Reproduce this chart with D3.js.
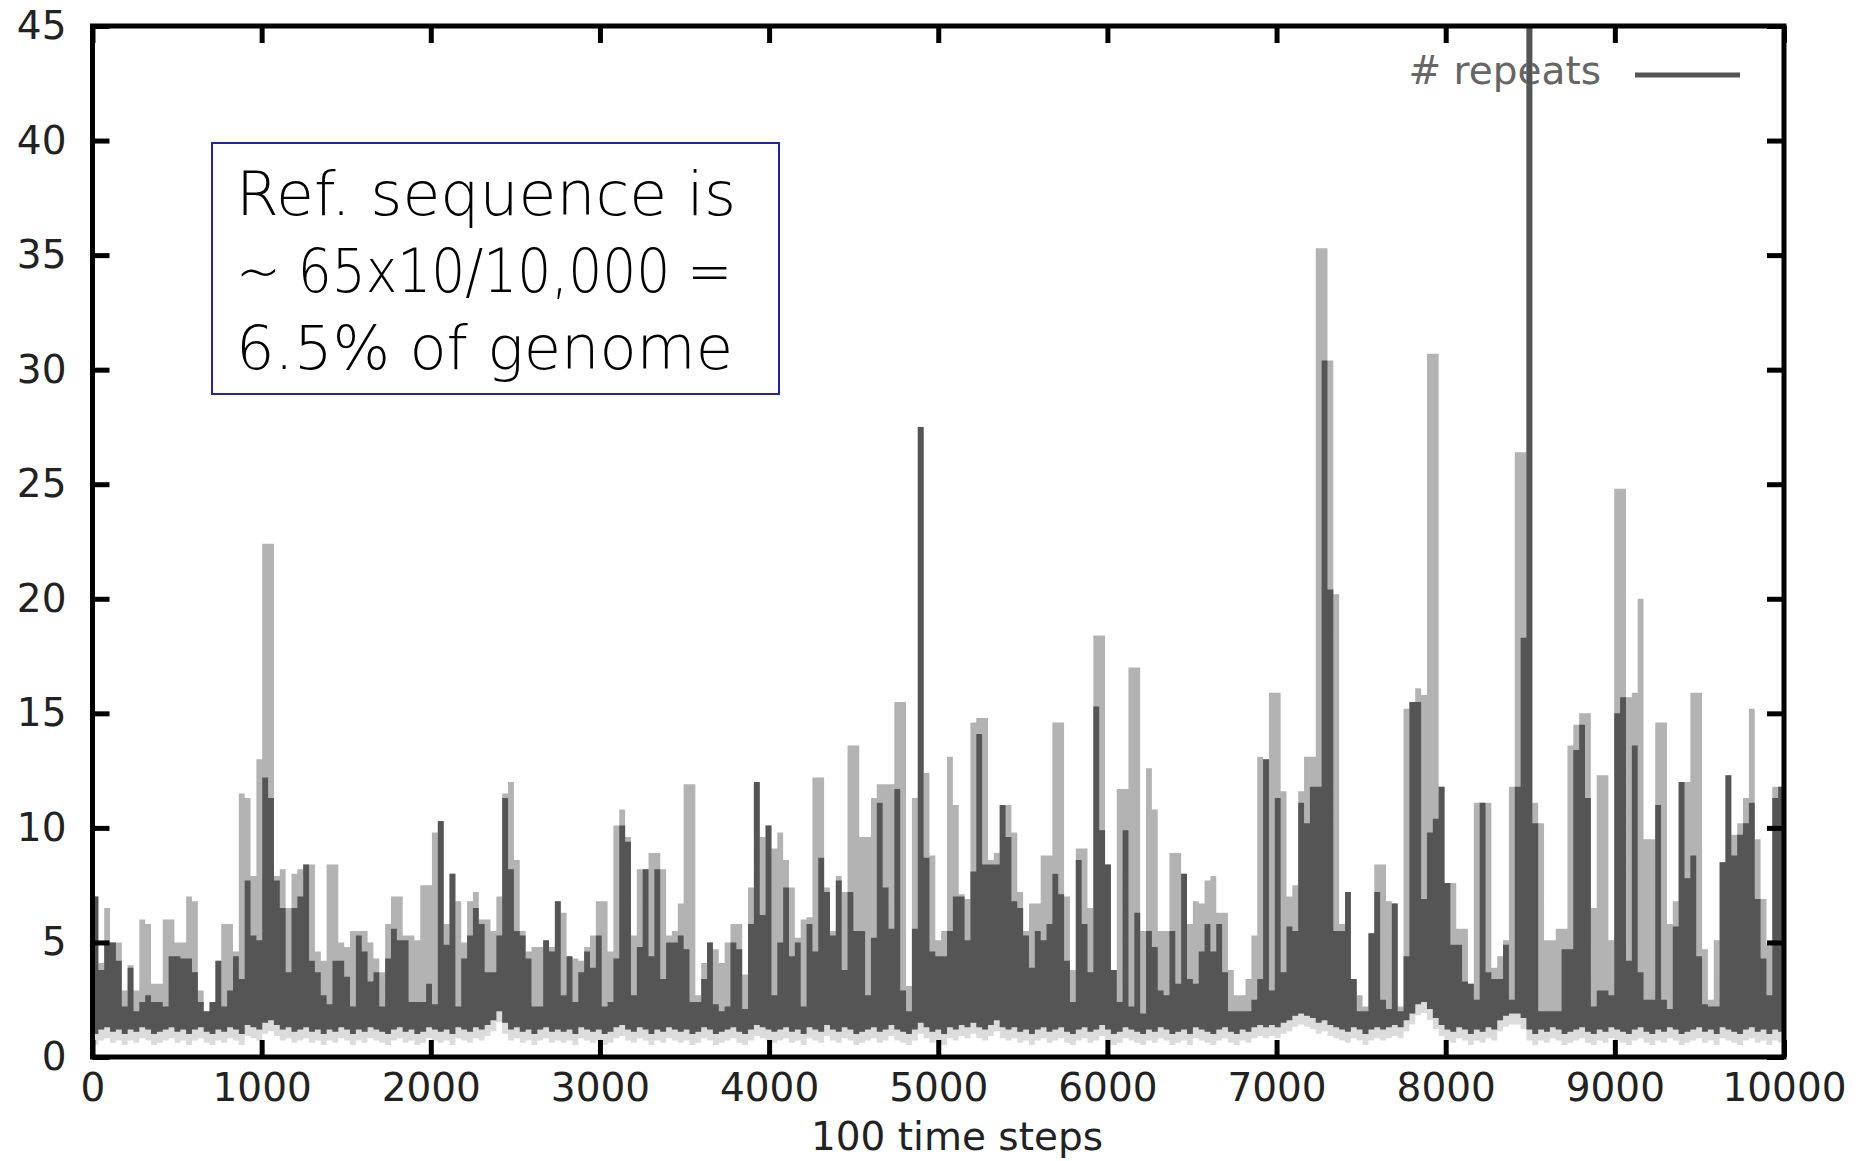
<!DOCTYPE html>
<html>
<head>
<meta charset="utf-8">
<script src="https://cdn.jsdelivr.net/npm/d3@7/dist/d3.min.js"></script>
<style>
body { margin: 0; background: #fff; }
svg { display: block; }
.axis .tick text { font-family: "DejaVu Sans", sans-serif; font-size: 39px; fill: #222; }
.axis .tick line { stroke: #000; stroke-width: 5; }
</style>
</head>
<body>
<script>
// # repeats, one plot column at a time (about 35 time steps each)
// core = top of the dark trace, halo = top of the grey fringe, lows = bottom of the trace
var core = [
 7.0,3.8,5.0,5.0,4.2,2.2,3.9,2.0,2.4,2.7,  2.4,2.4,2.2,4.4,4.4,4.3,4.3,3.7,2.4,2.0,
 2.4,4.2,2.2,2.9,4.4,3.4,7.7,5.3,5.1,12.2, 11.3,7.7,6.5,3.7,6.5,7.0,8.4,4.2,3.7,2.7,
 2.3,4.2,4.2,3.5,2.2,5.3,4.6,3.3,3.7,2.2,  4.3,5.6,5.1,5.1,2.4,2.4,2.4,3.2,2.3,10.3,
 4.9,8.0,2.2,4.3,5.3,6.5,5.8,3.7,3.7,5.3,  11.3,8.2,5.5,5.3,4.3,2.2,2.2,5.1,4.6,6.8,
 2.7,4.4,2.4,3.7,4.6,3.9,5.3,2.2,2.4,4.3,  10.1,9.4,2.7,4.8,8.2,4.4,8.2,3.4,5.0,5.0,
 5.3,4.7,2.4,2.4,3.4,5.0,2.3,2.0,2.2,5.0,  4.7,2.1,5.8,12.0,6.2,10.1,2.7,5.0,7.4,4.4,
 5.0,2.2,5.8,4.6,8.7,7.2,5.3,7.7,3.8,7.2,  5.5,5.5,2.7,5.2,11.1,7.4,5.6,11.7,2.9,2.0,
 5.6,27.5,8.7,4.6,4.4,4.4,5.5,7.0,7.0,5.1, 8.1,14.1,8.4,8.4,8.4,11.0,9.6,6.8,6.5,5.3,
 3.9,5.5,5.1,5.8,8.0,7.1,4.2,2.4,8.6,5.8,  3.7,15.3,9.9,8.4,3.8,2.4,9.9,2.2,6.3,1.9,
 5.5,4.8,2.9,2.7,5.5,3.2,8.0,3.4,3.2,4.6,  5.8,4.6,5.8,3.7,2.0,2.0,2.0,2.0,2.5,3.4,
 13.0,2.9,11.3,3.7,5.7,5.5,11.1,10.2,11.8,11.8, 30.4,20.4,5.5,5.5,7.2,3.4,2.0,2.0,5.4,7.2,
 2.5,2.1,6.7,2.0,4.4,15.5,15.5,6.9,9.8,10.4, 11.8,7.6,4.9,4.9,3.3,3.2,2.5,11.1,3.7,3.4,
 3.4,4.9,2.5,11.8,18.3,47,10.2,2.0,2.0,2.0, 2.0,4.7,4.7,13.4,14.5,11.3,2.2,2.9,2.9,2.7,
 15.0,15.7,4.2,13.6,3.7,2.5,2.5,11.0,2.5,2.1, 5.7,12.0,7.8,8.8,4.4,2.3,2.2,2.2,8.5,12.3,
 8.8,9.7,10.2,11.1,6.9,4.3,2.7,11.3,11.8
];
var halo = [
 7.0,4.1,6.5,5.0,5.0,2.9,4.0,2.9,6.0,5.8,  3.2,3.2,6.0,6.0,5.0,5.0,7.0,6.8,2.9,2.0,
 2.4,4.2,5.8,5.8,4.6,11.5,11.3,7.9,13.0,22.4, 22.4,7.9,8.2,6.5,8.0,8.2,8.4,8.4,4.6,4.2,
 8.4,8.4,5.0,4.8,5.5,5.5,5.5,5.0,4.3,3.7,  5.8,7.0,7.0,5.3,5.3,5.1,7.5,7.5,9.8,10.3,
 5.8,8.0,6.8,5.0,6.8,7.2,6.0,6.0,5.5,7.0,  11.5,12.0,8.6,5.5,4.6,4.8,4.8,5.1,4.8,6.8,
 6.3,4.4,4.3,4.2,4.8,5.3,6.8,6.8,4.6,10.1, 10.8,9.6,5.3,8.2,8.2,8.9,8.9,8.2,5.3,5.5,
 6.7,11.9,11.9,2.7,4.1,5.0,4.7,4.1,5.0,5.8, 5.8,3.6,7.4,12.0,9.6,10.1,9.1,9.8,8.6,7.4,
 5.2,6.0,6.1,12.2,12.2,7.4,5.5,7.9,7.2,13.6, 13.6,9.6,9.6,11.3,11.9,11.9,11.9,15.5,15.5,3.1,
 11.3,27.5,12.4,8.8,5.1,5.5,13.1,11.0,7.1,6.9, 14.6,14.8,14.8,8.6,8.9,11.0,11.0,9.8,7.2,5.5,
 6.7,6.7,8.8,8.8,14.6,14.6,7.0,3.8,9.1,9.1, 6.5,18.4,18.4,8.4,3.8,11.7,11.7,17.0,17.0,5.5,
 12.6,10.8,5.5,5.5,8.9,8.9,8.0,5.8,6.8,6.7, 7.7,7.9,6.3,6.3,3.8,2.7,2.7,3.4,5.3,13.1,
 13.0,15.9,15.9,11.6,7.0,7.5,11.6,13.1,13.1,35.3, 35.3,30.4,20.2,5.8,7.2,3.4,2.7,2.2,5.4,8.4,
 8.4,6.8,6.7,2.2,15.2,15.5,16.1,15.8,30.7,30.7, 11.8,7.6,7.6,5.6,5.6,3.2,11.1,11.1,11.1,3.9,
 4.4,5.1,11.8,26.4,26.4,47,11.1,10.2,5.1,5.1, 5.6,5.6,13.6,14.5,15.0,15.0,6.5,12.3,12.3,5.1,
 24.8,24.8,15.7,15.9,20.0,9.5,9.5,14.6,14.6,5.8, 6.8,12.0,12.0,15.9,15.9,4.7,2.5,5.1,8.5,12.3,
 9.7,10.2,11.3,15.2,9.5,6.9,4.9,11.8,11.8
];
var lows = [
 1.0,1.2,1.3,1.1,1.2,1.0,1.2,1.1,1.3,1.2, 1.0,1.1,1.2,1.3,1.1,1.2,1.0,1.2,1.3,1.1,
 1.0,1.2,1.1,1.3,1.2,1.0,1.4,1.3,1.2,1.5, 1.6,1.4,1.2,1.3,1.1,1.2,1.3,1.1,1.2,1.0,
 1.2,1.1,1.3,1.2,1.0,1.2,1.1,1.3,1.2,1.1, 1.0,1.2,1.3,1.1,1.2,1.0,1.1,1.3,1.2,1.1,
 1.2,1.0,1.3,1.2,1.1,1.3,1.2,1.4,1.6,2.0, 1.5,1.2,1.3,1.1,1.2,1.0,1.2,1.3,1.1,1.2,
 1.1,1.2,1.0,1.3,1.2,1.1,1.2,1.0,1.1,1.3, 1.4,1.2,1.1,1.3,1.2,1.0,1.2,1.1,1.3,1.2,
 1.1,1.2,1.0,1.1,1.3,1.2,1.0,1.1,1.2,1.3, 1.1,1.0,1.2,1.4,1.3,1.2,1.1,1.2,1.3,1.1,
 1.2,1.0,1.3,1.2,1.1,1.4,1.2,1.1,1.3,1.2, 1.0,1.1,1.2,1.3,1.1,1.2,1.4,1.2,1.1,1.0,
 1.2,1.5,1.3,1.1,1.2,1.0,1.3,1.2,1.4,1.3, 1.5,1.3,1.2,1.4,1.6,1.3,1.2,1.3,1.1,1.2,
 1.0,1.2,1.3,1.1,1.2,1.3,1.1,1.0,1.2,1.3, 1.1,1.2,1.4,1.2,1.0,1.1,1.3,1.2,1.1,1.0,
 1.2,1.1,1.3,1.2,1.0,1.1,1.2,1.0,1.3,1.2, 1.1,1.0,1.2,1.3,1.1,1.0,1.2,1.1,1.3,1.4,
 1.3,1.4,1.3,1.5,1.6,1.8,1.9,1.8,1.7,1.5, 1.6,1.4,1.3,1.2,1.1,1.3,1.2,1.0,1.2,1.3,
 1.2,1.3,1.4,1.3,1.6,1.9,2.3,2.4,2.1,1.7, 1.4,1.2,1.1,1.3,1.2,1.0,1.2,1.1,1.3,1.2,
 1.6,1.8,1.9,1.9,1.7,1.2,1.0,1.2,1.1,1.3, 1.2,1.0,1.1,1.2,1.3,1.1,1.0,1.2,1.1,1.3,
 1.2,1.1,1.0,1.2,1.3,1.1,1.0,1.2,1.1,1.3, 1.2,1.0,1.1,1.2,1.3,1.1,1.2,1.0,1.3,1.2,
 1.1,1.0,1.2,1.3,1.1,1.2,1.0,1.2,1.1
];
var xTicks = [0, 1000, 2000, 3000, 4000, 5000, 6000, 7000, 8000, 9000, 10000];
var yTicks = [0, 5, 10, 15, 20, 25, 30, 35, 40, 45];
var seriesName = "# repeats";
var xTitle = "100 time steps";
var noteLines = ["Ref. sequence is", "~ 65x10/10,000 =", "6.5% of genome"];

var W = 1869, H = 1161;
var box = { left: 92.5, right: 1784, top: 26, bottom: 1057 };

var svg = d3.select("body").append("svg").attr("width", W).attr("height", H);

var xScale = d3.scaleLinear().domain([0, 10000]).range([box.left, box.right]);
var yScale = d3.scaleLinear().domain([0, 45]).range([box.bottom, box.top]);

svg.append("defs").append("clipPath").attr("id", "plot")
	.append("rect")
	.attr("x", box.left).attr("y", box.top)
	.attr("width", box.right - box.left).attr("height", box.bottom - box.top);

//ключ (легенда) - рисуем до данных, пик проходит поверх текста
svg.append("text")
	.attr("x", 1601).attr("y", 84)
	.attr("text-anchor", "end")
	.style("font-family", "DejaVu Sans, sans-serif").style("font-size", "39px")
	.style("fill", "#666")
	.text(seriesName);
svg.append("line")
	.attr("x1", 1635).attr("x2", 1740).attr("y1", 75).attr("y2", 75)
	.style("stroke", "#555").style("stroke-width", 5);

//столбцы данных: левый край каждой колонки + закрывающая точка справа
var step = 10000 / core.length;
var cols = core.map(function(c, i) {
	return { t: i * step, hi: c, top: halo[i], lo: lows[i] };
});
var last = cols[cols.length - 1];
cols.push({ t: 10000, hi: last.hi, top: last.top, lo: last.lo });

var g = svg.append("g").attr("clip-path", "url(#plot)");

// light fringe under the trace
g.append("path").datum(cols)
	.attr("d", d3.area().curve(d3.curveStepAfter)
		.x(function(d) { return xScale(d.t); })
		.y0(function(d) { return yScale(d.lo) + 11; })
		.y1(function(d) { return yScale(d.lo); }))
	.style("fill", "#dcdcdc");
g.append("path").datum(cols)
	.attr("d", d3.area().curve(d3.curveStepAfter)
		.x(function(d) { return xScale(d.t); })
		.y0(function(d) { return yScale(d.lo); })
		.y1(function(d) { return yScale(d.top); }))
	.style("fill", "#b3b3b3");
g.append("path").datum(cols)
	.attr("d", d3.area().curve(d3.curveStepAfter)
		.x(function(d) { return xScale(d.t); })
		.y0(function(d) { return yScale(d.lo); })
		.y1(function(d) { return yScale(d.hi); }))
	.style("fill", "#555");

//оси в духе gnuplot: засечки внутрь и зеркально
var fmt = d3.format("d");
svg.append("g").attr("class", "axis")
	.attr("transform", "translate(0," + box.bottom + ")")
	.call(d3.axisBottom(xScale).tickValues(xTicks).tickFormat(fmt).tickSize(-17).tickSizeOuter(0).tickPadding(16));
svg.append("g").attr("class", "axis")
	.attr("transform", "translate(0," + box.top + ")")
	.call(d3.axisTop(xScale).tickValues(xTicks).tickFormat("").tickSize(-17).tickSizeOuter(0));
svg.append("g").attr("class", "axis")
	.attr("transform", "translate(" + box.left + ",0)")
	.call(d3.axisLeft(yScale).tickValues(yTicks).tickFormat(fmt).tickSize(-17).tickSizeOuter(0).tickPadding(26));
svg.append("g").attr("class", "axis")
	.attr("transform", "translate(" + box.right + ",0)")
	.call(d3.axisRight(yScale).tickValues(yTicks).tickFormat("").tickSize(-17).tickSizeOuter(0));
svg.selectAll(".axis .domain").remove();

svg.append("rect")
	.attr("x", box.left).attr("y", box.top)
	.attr("width", box.right - box.left).attr("height", box.bottom - box.top)
	.style("fill", "none").style("stroke", "#000").style("stroke-width", 5);

svg.append("text")
	.attr("x", 957).attr("y", 1150)
	.attr("text-anchor", "middle")
	.style("font-family", "DejaVu Sans, sans-serif").style("font-size", "39px")
	.style("fill", "#222")
	.text(xTitle);

//рамка с пояснением
svg.append("rect")
	.attr("x", 212).attr("y", 143).attr("width", 567).attr("height", 251)
	.style("fill", "#fff").style("stroke", "#2424a8").style("stroke-width", 2);
var noteWidths = [500, 496, 497];
svg.selectAll(".note").data(noteLines).enter().append("text")
	.attr("class", "note")
	.attr("x", 236)
	.attr("y", function(d, i) { return 215 + i * 77; })
	.attr("textLength", function(d, i) { return noteWidths[i]; })
	.attr("lengthAdjust", "spacingAndGlyphs")
	.style("font-family", "DejaVu Sans, sans-serif").style("font-size", "61px")
	.style("font-weight", 200)
	.style("fill", "#000")
	.text(function(d) { return d; });
</script>
</body>
</html>
